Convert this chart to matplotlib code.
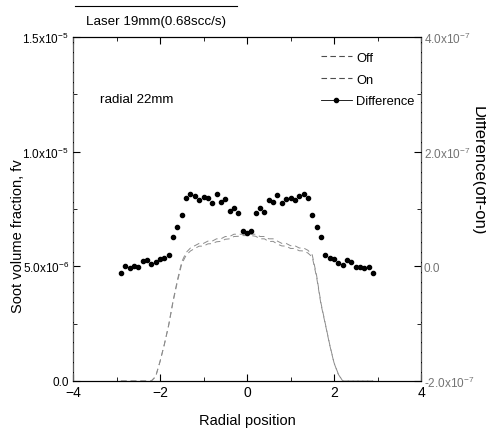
import matplotlib
matplotlib.use("Agg")
import matplotlib.pyplot as plt
from matplotlib.lines import Line2D
import numpy as np

plt.rcParams['font.family'] = ['Liberation Sans', 'DejaVu Sans']
plt.rcParams['mathtext.fontset'] = 'custom'
plt.rcParams['mathtext.rm'] = 'Liberation Sans'

# radial position (as on the chart)
radial = [-2.9, -2.8, -2.7, -2.6, -2.5, -2.4, -2.3, -2.2, -2.1, -2.0,
          -1.9, -1.8, -1.7, -1.6, -1.5, -1.4, -1.3, -1.2, -1.1, -1.0,
          -0.9, -0.8, -0.7, -0.6, -0.5, -0.4, -0.3, -0.2, -0.1, 0.0,
          0.1, 0.2, 0.3, 0.4, 0.5, 0.6, 0.7, 0.8, 0.9, 1.0,
          1.1, 1.2, 1.3, 1.4, 1.5, 1.6, 1.7, 1.8, 1.9, 2.0,
          2.1, 2.2, 2.3, 2.4, 2.5, 2.6, 2.7, 2.8, 2.9]

# soot volume fraction, units of 1e-6
fv_off = [0, 0, 0, 0, 0, 0, 0, 0, 0.2, 0.85,
          1.6, 2.45, 3.5, 4.4, 5.2, 5.6, 5.8, 5.9, 6.0, 6.0,
          6.1, 6.1, 6.2, 6.2, 6.3, 6.3, 6.4, 6.4, 6.4, 6.4,
          6.4, 6.4, 6.3, 6.3, 6.2, 6.2, 6.1, 6.0, 6.0, 5.9,
          5.9, 5.8, 5.8, 5.7, 5.5, 4.6, 3.4, 2.5, 1.6, 0.8,
          0.3, 0, 0, 0, 0, 0, 0, 0, 0]
fv_on = [0, 0, 0, 0, 0, 0, 0, 0, 0.19, 0.84,
         1.59, 2.43, 3.45, 4.33, 5.11, 5.48, 5.67, 5.78, 5.88, 5.88,
         5.98, 5.99, 6.07, 6.09, 6.18, 6.2, 6.3, 6.31, 6.34, 6.34,
         6.34, 6.31, 6.2, 6.2, 6.08, 6.09, 5.97, 5.89, 5.88, 5.78,
         5.78, 5.68, 5.67, 5.58, 5.41, 4.53, 3.35, 2.48, 1.58, 0.79,
         0.29, 0, 0, 0, 0, 0, 0, 0, 0]

# difference (off - on), units of 1e-7
diff = [-0.12, 0.00, -0.03, 0.01, -0.01, 0.09, 0.11, 0.04, 0.07, 0.13,
        0.15, 0.20, 0.52, 0.68, 0.90, 1.19, 1.27, 1.23, 1.16, 1.21,
        1.19, 1.10, 1.26, 1.13, 1.17, 0.96, 1.02, 0.93, 0.62, 0.58,
        0.61, 0.93, 1.02, 0.95, 1.16, 1.12, 1.25, 1.10, 1.18, 1.20,
        1.15, 1.23, 1.27, 1.19, 0.90, 0.68, 0.52, 0.20, 0.15, 0.13,
        0.06, 0.02, 0.11, 0.08, -0.02, -0.01, -0.03, -0.01, -0.12]

left_ticks = [0, 5e-6, 1e-5, 1.5e-5]
left_labels = ['0.0', r'5.0x10$^{-6}$', r'1.0x10$^{-5}$', r'1.5x10$^{-5}$']
right_ticks = [-2e-7, 0, 2e-7, 4e-7]
right_labels = [r'-2.0x10$^{-7}$', '0.0', r'2.0x10$^{-7}$', r'4.0x10$^{-7}$']

fig = plt.figure(figsize=(4.86, 4.35), dpi=100)
ax = fig.add_axes([73 / 486, 1 - 382 / 435, 348 / 486, 344 / 435])
ax2 = ax.twinx()

x = np.array(radial)
ax.plot(x, np.array(fv_off) * 1e-6, color='0.55', lw=0.7, dashes=(6, 4))
ax.plot(x, np.array(fv_on) * 1e-6, color='0.55', lw=0.7, dashes=(6, 4))
ax2.plot(x, np.array(diff) * 1e-7, ls='none', marker='o', ms=3, color='k')

ax.set_xlim(-4, 4)
ax.set_ylim(0, 1.5e-5)
ax2.set_ylim(-2e-7, 4e-7)

ax.set_xticks([-4, -2, 0, 2, 4])
ax.set_xticks([-3, -1, 1, 3], minor=True)
ax.set_yticks(left_ticks)
ax.set_yticklabels(left_labels, fontsize=8.5)
ax.set_yticks([2.5e-6, 7.5e-6, 1.25e-5], minor=True)
ax2.set_yticks(right_ticks)
ax2.set_yticklabels(right_labels, color='0.45', fontsize=8.5)
ax2.set_yticks([-1e-7, 1e-7, 3e-7], minor=True)

ax.tick_params(axis='x', labelsize=10)
ax.tick_params(which='both', direction='in', top=True, pad=3)
ax.tick_params(which='major', length=5)
ax.tick_params(which='minor', length=3)
ax2.tick_params(which='both', direction='in', pad=2)
ax2.tick_params(which='major', length=5)
ax2.tick_params(which='minor', length=3)
for s in ['left', 'right']:
    ax2.spines[s].set_color('0.35')
    ax2.spines[s].set_linestyle((0, (7, 2)))

ax.set_xlabel('Radial position', fontsize=10.5, labelpad=10)
fig.text(18 / 486, 1 - 236 / 435, 'Soot volume fraction, fv', rotation=90,
         ha='center', va='center', fontsize=10.5)
fig.text(478 / 486, 1 - 171 / 435, 'Difference(off-on)', rotation=-90,
         ha='center', va='center', fontsize=12)

ax.text(0.078, 0.82, 'radial 22mm', transform=ax.transAxes, fontsize=9.6,
        ha='left', va='center')

fig.text(156 / 486, 1 - 22 / 435, 'Laser 19mm(0.68scc/s)', ha='center',
         va='center', fontsize=9.6)
fig.add_artist(Line2D([75 / 486, 237 / 486], [1 - 7 / 435, 1 - 7 / 435],
                      color='k', lw=0.8))

handles = [Line2D([], [], color='0.3', lw=0.8, dashes=(5, 3)),
           Line2D([], [], color='0.3', lw=0.8, dashes=(5, 3)),
           Line2D([], [], color='k', lw=0.6, marker='o', ms=3)]
ax2.legend(handles, ['Off', 'On', 'Difference'], loc='upper right',
           bbox_to_anchor=(0.997, 0.972), borderaxespad=0,
           frameon=False, fontsize=9.3, handlelength=2.4, handletextpad=0.35,
           labelspacing=0.75)

fig.savefig('out.png', dpi=100)
